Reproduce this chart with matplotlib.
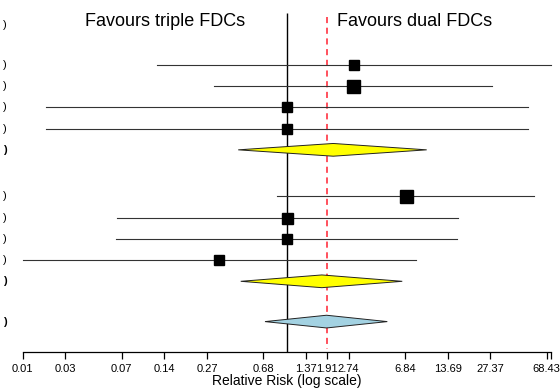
import matplotlib
matplotlib.use('Agg')
import matplotlib.pyplot as plt
from matplotlib.ticker import FixedLocator, FixedFormatter, NullLocator

plt.rcParams['font.family'] = ['Liberation Sans', 'DejaVu Sans']

# study estimates (relative risk) and 95% CI
est_g1 = [2.99, 2.95, 1.00, 1.00]
lo_g1 = [0.122, 0.307, 0.020, 0.020]
hi_g1 = [73.0, 28.1, 50.2, 50.2]

est_g2 = [6.95, 1.00, 1.00, 0.333]
lo_g2 = [0.85, 0.063, 0.0625, 0.0137]
hi_g2 = [55.9, 16.1, 15.8, 8.18]

# subgroup + overall pooled
sub_est = [2.13, 1.77]
sub_lo = [0.455, 0.474]
sub_hi = [9.73, 6.54]
all_est, all_lo, all_hi = 1.91, 0.703, 5.13

tick_vals = [0.013686, 0.027372, 0.06843, 0.13686, 0.27372, 0.6843,
             1.3686, 1.91, 2.7372, 6.843, 13.686, 27.372, 68.43]

# box sizes (px) for the study squares
box_g1 = [10.5, 13, 9.5, 9.5]
box_g2 = [13, 11, 10.5, 10.5]

# layout (row units)
rows_g1 = [0, 1, 2, 3]
sub_rows = [4, 10.2]
rows_g2 = [6.2, 7.2, 8.2, 9.2]
all_row = 12.1
head_row = -1.9
axis_row = 13.52

fig = plt.figure(figsize=(5.6, 3.92), dpi=100)
ax = fig.add_axes([0, 0, 1, 1])
ax.set_xscale('log')
ax.set_xlim(0.00948, 84.9)
ax.set_ylim(15.42, -3.066)

# reference lines
ax.vlines(1, -2.45, axis_row, color='black', lw=1.0, zorder=1)
ax.vlines(all_est, -2.26, axis_row - 0.15, color='#ff2030', lw=1.1,
          linestyles=(0, (4, 3)), zorder=1)

px = 0.72  # points per pixel
for est, lo, hi, rows, box in [(est_g1, lo_g1, hi_g1, rows_g1, box_g1),
                               (est_g2, lo_g2, hi_g2, rows_g2, box_g2)]:
    for e, l, h, r, b in zip(est, lo, hi, rows, box):
        ax.plot([l, h], [r, r], color='#333333', lw=0.8, zorder=2)
        ax.plot(e, r, marker='s', ms=b * px, color='black', zorder=3)


def diamond(e, l, h, r, fc):
    hh = 0.3
    ax.fill([l, e, h, e], [r, r - hh, r, r + hh], facecolor=fc,
            edgecolor='#222222', lw=0.7, zorder=3)


for e, l, h, r in zip(sub_est, sub_lo, sub_hi, sub_rows):
    diamond(e, l, h, r, '#ffff00')
diamond(all_est, all_lo, all_hi, all_row, '#a3d2e2')

# left side labels (cut off in the original)
yt = ax.get_yaxis_transform()
ax.text(0.006, head_row, ')', transform=yt, fontsize=8, va='center')
for r in rows_g1 + rows_g2:
    ax.text(0.006, r, ')', transform=yt, fontsize=8, va='center')
for r in sub_rows + [all_row]:
    ax.text(0.006, r, ')', transform=yt, fontsize=8, va='center',
            fontweight='bold')

ax.text(0.2955, -1.84, 'Favours triple FDCs', transform=yt, fontsize=13,
        ha='center', va='baseline')
ax.text(0.7407, -1.84, 'Favours dual FDCs', transform=yt, fontsize=13,
        ha='center', va='baseline')

# axis
for s in ['top', 'left', 'right']:
    ax.spines[s].set_visible(False)
ax.spines['bottom'].set_position(('data', axis_row))
ax.spines['bottom'].set_bounds(tick_vals[0], max(hi_g1 + hi_g2))
ax.spines['bottom'].set_linewidth(0.9)
ax.xaxis.set_major_locator(FixedLocator(tick_vals + [max(hi_g1 + hi_g2)]))
ax.xaxis.set_major_formatter(FixedFormatter([f'{v:.2f}' for v in tick_vals] + ['']))
ax.xaxis.set_minor_locator(NullLocator())
ax.tick_params(axis='x', direction='out', length=5, width=0.9, pad=4,
               labelsize=8, colors='black')
ax.yaxis.set_visible(False)
ax.text(1, 14.88, 'Relative Risk (log scale)', fontsize=10, ha='center',
        va='center')

fig.savefig('out.png', dpi=100)
